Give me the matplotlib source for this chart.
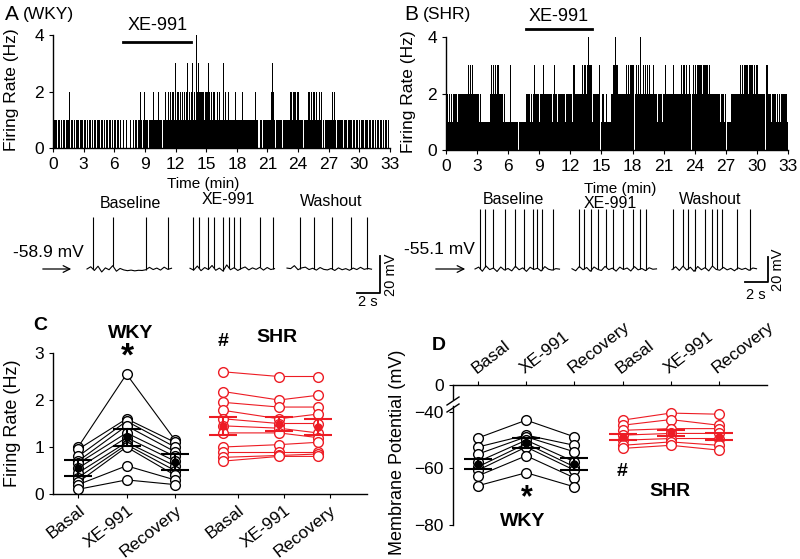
import numpy as np
import matplotlib.pyplot as plt

plt.rcParams['font.family'] = ['Liberation Sans', 'DejaVu Sans']
plt.rcParams['axes.linewidth'] = 1.0
plt.rcParams['xtick.major.size'] = 3
plt.rcParams['ytick.major.size'] = 3

W, H = 800, 559
RED = '#ed1c24'

# ---- A/B: firing rate (Hz), 0.1-min bins, one string per minute
wky_rate = [
    "0111011010", "1101112011", "0101101110", "1101011010", "1101110110",
    "1011011010", "1101101001", "0100010010", "1101121012", "1110111121",
    "1112111011", "2112121213", "1221212121", "2312123121", "4232222212",
    "2232121221", "1212113121", "1211111121", "1111121111", "1111111121",
    "1001101111", "1112321011", "1111011111", "1122122212", "2111101111",
    "2212122121", "2120101111", "1112121011", "1111011101", "1110110110",
    "1011101101", "1011010110", "1101011010",
]
shr_rate = [
    "1212121222", "2122222222", "2323232222", "2212111111", "1123232323",
    "3222212111", "1131111110", "1111111222", "2121232222", "1222322222",
    "2212322122", "2222212222", "2213222222", "2323323433", "3122222230",
    "1211211112", "2334332222", "2222323233", "3023232422", "3232323222",
    "3222122212", "2322222223", "2222222323", "3232320232", "3233333233",
    "3332322222", "2222122212", "0111122222", "2222323233", "3233332323",
    "3222222203", "3222122212", "1212222221",
]
wky_xe_min = [6.9, 13.5]
shr_xe_min = [7.7, 14.1]

# ---- example traces: spike times (s) inside each segment, baseline noise (mV)
wky_rest, shr_rest = -58.9, -55.1
wky_spk = [
    [0.52, 2.26, 5.13, 7.04],
    [0.26, 0.78, 1.57, 2.09, 2.87, 3.39, 3.83, 4.35, 6.09, 7.22],
    [1.13, 2.35, 3.91, 5.57, 6.96],
]
shr_spk = [
    [0.43, 0.87, 1.57, 2.61, 3.48, 4.26, 5.04, 5.39, 5.83, 6.78],
    [0.61, 1.04, 1.65, 2.26, 2.96, 3.57, 4.43, 5.30, 5.87, 6.43],
    [0.09, 0.96, 1.39, 1.96, 2.83, 3.52, 3.87, 4.39, 5.61, 6.74],
]
wky_noise = [
    [0, 1.2, -0.8, 1.5, -1.6, 0.6, -0.4, 1.8, -1.2, 0.3, -0.5, -0.9,
     -0.6, -1.0, -0.7, -0.8, -0.4, 0.9, -0.3, 0.5, -0.6, 1.0, -0.2, 0.4],
    [0.4, -0.6, 1.6, -0.9, 0.8, -0.3, 1.9, -0.7, 0.5, -1.1, 2.2, -0.4,
     0.7, -0.8, 0.3, 1.1, -0.5, 0.6, -0.2, 0.9, -0.6, 0.8, -0.3, 0.2],
    [0.5, 0.2, 1.8, -0.4, 0.6, 1.0, -0.3, 0.4, -0.6, 0.8, -0.2, -0.5,
     0.3, -0.8, 0.6, -0.4, 0.2, -0.7, 0.5, -0.3, 0.9, -0.2, 0.3, -0.1],
]
shr_noise = [
    [0, 1.5, -1.8, 2.4, -0.5, 0.8, -2.0, 1.6, -0.8, 0.4, -1.5, 2.2,
     -0.6, 0.9, -1.9, 1.4, -0.4, 0.6, -1.6, 1.9, -0.2, -0.9, 0.3, -0.1],
    [0.2, -1.4, 2.0, -0.6, 1.2, -1.8, 1.6, -0.3, -1.2, 2.1, -0.5, 0.7,
     -1.7, 1.5, -0.4, 0.8, -1.6, 1.9, -0.7, 0.4, -1.3, 1.0, -0.2, 0.1],
    [-0.5, 1.8, -1.2, 2.3, -0.8, 1.4, -1.9, 2.0, -0.6, 1.1, -1.5, 2.4,
     -0.3, -1.0, 1.3, -0.7, 0.5, -1.4, 0.9, -0.4, 0.6, -1.1, 0.8, 0.2],
]
trace_labels = ["Baseline", "XE-991", "Washout"]

# ---- C: firing rate per cell (Hz)
conds = ["Basal", "XE-991", "Recovery"]
wky_fr_basal = [1.00, 0.95, 0.80, 0.70, 0.65, 0.55, 0.45, 0.35, 0.25, 0.20, 0.10]
wky_fr_xe = [2.55, 1.60, 1.55, 1.45, 1.30, 1.20, 1.10, 1.05, 1.00, 0.60, 0.30]
wky_fr_rec = [1.15, 1.10, 1.00, 0.90, 0.80, 0.70, 0.60, 0.50, 0.40, 0.30, 0.20]
shr_fr_basal = [2.60, 2.18, 1.95, 1.78, 1.60, 1.45, 1.30, 1.00, 0.90, 0.78, 0.70]
shr_fr_xe = [2.50, 2.00, 1.85, 1.60, 1.50, 1.40, 1.30, 1.05, 0.90, 0.82, 0.80]
shr_fr_rec = [2.50, 2.10, 1.85, 1.70, 1.50, 1.30, 1.20, 1.10, 0.90, 0.85, 0.80]
wky_fr_mean, wky_fr_err = [0.55, 1.21, 0.68], [0.17, 0.18, 0.17]
shr_fr_mean, shr_fr_err = [1.44, 1.49, 1.43], [0.19, 0.14, 0.17]

# ---- D: membrane potential per cell (mV)
wky_mp_basal = [-49.2, -52.4, -54.9, -57.6, -59.4, -60.6, -62.6, -66.1]
wky_mp_xe = [-42.9, -48.2, -48.8, -50.0, -51.2, -52.4, -55.5, -61.5]
wky_mp_rec = [-48.8, -51.8, -54.1, -57.6, -59.4, -60.6, -63.3, -66.5]
shr_mp_basal = [-42.9, -44.7, -46.5, -48.2, -50.0, -51.8, -52.9]
shr_mp_xe = [-40.4, -42.7, -45.9, -47.6, -49.4, -50.6, -51.8]
shr_mp_rec = [-40.8, -44.7, -45.9, -47.6, -49.4, -51.8, -53.5]
wky_mp_mean, wky_mp_err = [-58.5, -51.0, -58.3], [1.8, 1.8, 2.1]
shr_mp_mean, shr_mp_err = [-48.9, -47.5, -48.8], [1.1, 1.1, 1.2]

fig = plt.figure(figsize=(8, 5.59), dpi=100)


def px_axes(x0, y0, x1, y1):
    return fig.add_axes([x0 / W, 1 - y1 / H, (x1 - x0) / W, (y1 - y0) / H])


def ptext(x, y, s, **kw):
    kw.setdefault('ha', 'center')
    kw.setdefault('va', 'center')
    fig.text(x / W, 1 - y / H, s, **kw)


def rate_panel(ax, rows, xe, bar_y, lab_y):
    vals = np.array([int(c) for row in rows for c in row])
    edges = np.arange(len(vals) + 1) * 0.1
    ax.stairs(vals, edges, fill=True, color='black', linewidth=0)
    ax.set_xlim(0, 33)
    ax.set_ylim(0, 4)
    ax.set_xticks(range(0, 34, 3))
    ax.set_yticks([0, 2, 4])
    ax.tick_params(labelsize=12.5, length=3)
    for s in ('top', 'right'):
        ax.spines[s].set_visible(False)
    ax.plot(xe, [bar_y, bar_y], color='black', lw=2, clip_on=False)
    ax.text(np.mean(xe), lab_y, 'XE-991', ha='center', va='center', fontsize=13)


# ---------------- A / B histograms
axA = px_axes(53, 35, 390, 148)
rate_panel(axA, wky_rate, wky_xe_min, 3.76, 4.35)
axA.set_xlabel('Time (min)', fontsize=11)
axA.xaxis.set_label_coords(0.445, -0.26)

axB = px_axes(446, 37, 788, 150)
rate_panel(axB, shr_rate, shr_xe_min, 4.3, 4.72)
axB.set_xlabel('Time (min)', fontsize=11)
axB.xaxis.set_label_coords(0.509, -0.285)

ptext(12, 90, 'Firing Rate (Hz)', rotation=90, fontsize=12.5)
ptext(409, 92, 'Firing Rate (Hz)', rotation=90, fontsize=12.5)
ptext(5, 14, 'A', ha='left', fontsize=15)
ptext(23, 14, '(WKY)', ha='left', fontsize=12.5)
ptext(404, 15, 'B', ha='left', fontsize=15)
ptext(423, 15, '(SHR)', ha='left', fontsize=12.5)

# ---------------- traces
SEC_PX = 11.5
SEG_S = 7.35


def draw_traces(ax, left, rest, mv_px, peak, seg_px, spikes, noises,
                arrow_px, bar_x_px, bar_bot_px):
    ax.axis('off')
    ax.set_xlim(0, 400 / SEC_PX)
    ax.set_ylim(rest - (310 - 269) / mv_px, rest + (269 - 195) / mv_px)
    for sx, sp, nz in zip(seg_px, spikes, noises):
        x0 = (sx - left) / SEC_PX
        tt = x0 + np.linspace(0, SEG_S, len(nz))
        vv = rest + np.array(nz)
        ax.plot(tt, vv, color='black', lw=0.8)
        st = x0 + np.array(sp)
        ax.vlines(st, np.interp(st, tt, vv), rest + peak, color='black', lw=0.8)
    ax.annotate('', xy=((arrow_px[1] - left) / SEC_PX, rest),
                xytext=((arrow_px[0] - left) / SEC_PX, rest),
                arrowprops=dict(arrowstyle='->', color='black', lw=0.9,
                                mutation_scale=12))
    bx = (bar_x_px - left) / SEC_PX
    by = rest - (bar_bot_px - 269) / mv_px
    ax.plot([bx - 2, bx, bx], [by, by, by + 20], color='black', lw=1.3)


axTA = px_axes(0, 195, 400, 310)
draw_traces(axTA, 0, wky_rest, 1.85, 28, [87, 190, 287], wky_spk, wky_noise,
            [40, 74], 380, 293)
axTB = px_axes(400, 195, 800, 310)
draw_traces(axTB, 400, shr_rest, 1.25, 48, [475, 572, 672], shr_spk, shr_noise,
            [433, 468], 768, 282)

for x, y, s in zip([130, 228, 331], [204, 199, 202], trace_labels):
    ptext(x, y, s, fontsize=11.5)
for x, y, s in zip([513, 610, 710], [199, 204, 199], trace_labels):
    ptext(x, y, s, fontsize=11.5)
ptext(48, 252, f'{wky_rest} mV', fontsize=12.5)
ptext(439, 250, f'{shr_rest} mV', fontsize=12.5)
ptext(391, 275, '20 mV', rotation=90, fontsize=10.5)
ptext(368, 302, '2 s', fontsize=10.5)
ptext(778, 270, '20 mV', rotation=90, fontsize=10.5)
ptext(756, 295, '2 s', fontsize=10.5)

# ---------------- C
wky_c_x = [0, 1, 2]
shr_c_x = [3.0, 4.15, 4.95]
c_ticks = [0, 1, 2, 3.3, 4.25, 5.2]

axC = px_axes(53, 353, 367, 494)
for vals in zip(wky_fr_basal, wky_fr_xe, wky_fr_rec):
    axC.plot(wky_c_x, vals, '-o', color='black', lw=0.8, ms=7, mfc='white',
             mew=1, clip_on=False, zorder=3)
for vals in zip(shr_fr_basal, shr_fr_xe, shr_fr_rec):
    axC.plot(shr_c_x, vals, '-o', color=RED, lw=0.8, ms=7, mfc='white',
             mew=1, clip_on=False, zorder=3)
axC.errorbar(wky_c_x, wky_fr_mean, yerr=wky_fr_err, fmt='o', color='black',
             ms=5, capsize=10, elinewidth=1.5, capthick=1.5, zorder=5)
axC.errorbar(shr_c_x, shr_fr_mean, yerr=shr_fr_err, fmt='o', color=RED,
             ms=5, capsize=10, elinewidth=1.5, capthick=1.5, zorder=5)
axC.set_xlim(-0.52, 5.97)
axC.set_ylim(0, 3)
axC.set_yticks([0, 1, 2, 3])
axC.set_xticks(c_ticks)
axC.set_xticklabels(conds * 2, rotation=38, ha='right', va='top',
                    rotation_mode='anchor')
axC.tick_params(labelsize=12.5, length=3)
for s in ('top', 'right'):
    axC.spines[s].set_visible(False)
ptext(13, 423, 'Firing Rate (Hz)', rotation=90, fontsize=13)
ptext(33, 326, 'C', ha='left', fontsize=14, fontweight='bold')
ptext(131, 333, 'WKY', fontsize=14, fontweight='bold')
ptext(127, 357, '*', fontsize=24, fontweight='bold')
ptext(223, 341, '#', fontsize=14, fontweight='bold')
ptext(277, 337, 'SHR', fontsize=14, fontweight='bold')

# ---------------- D (broken y axis)
d_wky_x = [0, 1, 2]
d_shr_x = [3, 4, 5]

axD = px_axes(453, 406.3, 767, 525)
axDt = px_axes(453, 385, 767, 399)
for vals in zip(wky_mp_basal, wky_mp_xe, wky_mp_rec):
    axD.plot(d_wky_x, vals, '-o', color='black', lw=0.8, ms=7, mfc='white',
             mew=1, clip_on=False, zorder=3)
for vals in zip(shr_mp_basal, shr_mp_xe, shr_mp_rec):
    axD.plot(d_shr_x, vals, '-o', color=RED, lw=0.8, ms=7, mfc='white',
             mew=1, clip_on=False, zorder=3)
axD.errorbar(d_wky_x, wky_mp_mean, yerr=wky_mp_err, fmt='o', color='black',
             ms=5, capsize=10, elinewidth=1.5, capthick=1.5, zorder=5)
axD.errorbar(d_shr_x, shr_mp_mean, yerr=shr_mp_err, fmt='o', color=RED,
             ms=5, capsize=10, elinewidth=1.5, capthick=1.5, zorder=5)
for ax in (axD, axDt):
    ax.set_xlim(-0.52, 6.0)
    ax.spines['right'].set_visible(False)
    ax.spines['bottom'].set_visible(False)
    ax.tick_params(labelsize=12.5, length=3)
axD.set_ylim(-80, -38)
axD.set_yticks([-80, -60, -40])
axD.spines['top'].set_visible(False)
axD.set_xticks([])
axDt.set_ylim(-5, 0)
axDt.set_yticks([0])
axDt.xaxis.set_ticks_position('top')
axDt.set_xticks(d_wky_x + d_shr_x)
axDt.set_xticklabels(conds * 2, rotation=38, ha='left', va='bottom',
                     rotation_mode='anchor')
for yb in (401, 408):
    fig.add_artist(plt.Line2D([447 / W, 459 / W], [1 - (yb + 4) / H, 1 - (yb - 4) / H],
                              color='black', lw=1))
ptext(397, 452, 'Membrane Potential (mV)', rotation=90, fontsize=13)
ptext(432, 345, 'D', ha='left', fontsize=14, fontweight='bold')
ptext(527, 498, '*', fontsize=22, fontweight='bold')
ptext(523, 521, 'WKY', fontsize=14, fontweight='bold')
ptext(622, 472, '#', fontsize=14, fontweight='bold')
ptext(670, 491, 'SHR', fontsize=14, fontweight='bold')

fig.savefig('out.png', dpi=100)
